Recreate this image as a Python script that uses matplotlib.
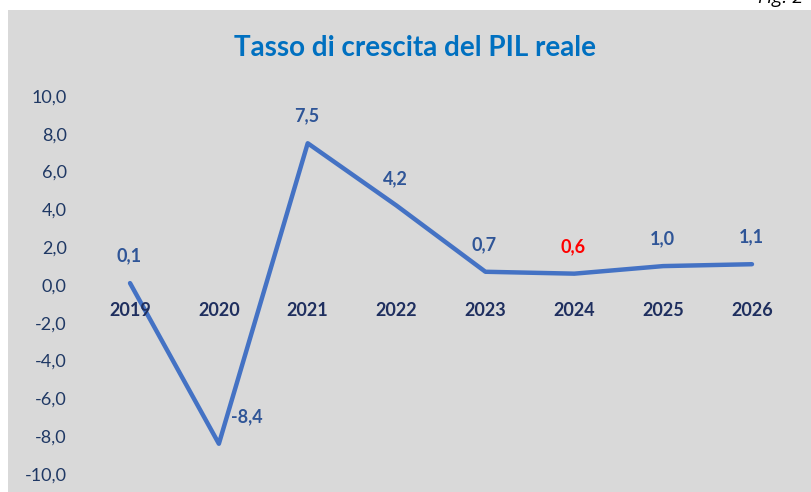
import numpy as np
import matplotlib.pyplot as plt
from matplotlib.patches import Rectangle

# Tasso di crescita del PIL reale
years = ['2019', '2020', '2021', '2022', '2023', '2024', '2025', '2026']
growth = [0.1, -8.4, 7.5, 4.2, 0.7, 0.6, 1.0, 1.1]
label_colors = ['#2F5597', '#2F5597', '#2F5597', '#2F5597', '#2F5597', '#FF0000', '#2F5597', '#2F5597']
yticks = [-10, -8, -6, -4, -2, 0, 2, 4, 6, 8, 10]

plt.rcParams['font.family'] = ['Lato', 'DejaVu Sans']

W, H = 811, 492
fig = plt.figure(figsize=(W / 100, H / 100), dpi=100)
fig.patch.set_facecolor('white')

# grey panel below the white strip at the top
fig.patches.append(Rectangle((8 / W, 0), 1 - 8 / W, 1 - 10 / H, transform=fig.transFigure,
                             facecolor='#D9D9D9', edgecolor='none', zorder=-1))
fig.text(758 / W, 1 - 3 / H, 'Fig. 2', fontsize=14, style='italic', color='black',
         va='baseline', ha='left', family='Open Sans')

ax = fig.add_axes([100 / W, 18 / H, 690 / W, 378 / H])
ax.set_facecolor('none')
x = np.arange(len(years))
ax.plot(x, growth, color='#4472C4', linewidth=3.2, solid_capstyle='round', solid_joinstyle='round')

ax.set_xlim(-0.338, 7.428)
ax.set_ylim(-10, 10)
ax.set_yticks(yticks)
ax.set_yticklabels([f'{v:.1f}'.replace('.', ',') for v in yticks], color='#1F3864', fontsize=13)
ax.tick_params(axis='y', length=0, pad=24)
ax.set_xticks([])
for s in ax.spines.values():
    s.set_visible(False)

# category labels sit just below the zero line
for xi, yr in zip(x, years):
    ax.annotate(yr, (xi, 0), xytext=(0, -26), textcoords='offset pixels', ha='center', va='center',
                fontsize=13, fontweight='bold', color='#1F2F5F')

# data labels
for xi, v, c in zip(x, growth, label_colors):
    dx = 28 if v < 0 else -1
    ax.annotate(f'{v:.1f}'.replace('.', ','), (xi, v), xytext=(dx, 27), textcoords='offset pixels',
                ha='center', va='center', fontsize=13, fontweight='bold', color=c)

fig.text(415 / W, 1 - 48 / H, 'Tasso di crescita del PIL reale', fontsize=20, fontweight='bold',
         color='#0070C0', ha='center', va='center')

fig.savefig('out.png', dpi=100)
